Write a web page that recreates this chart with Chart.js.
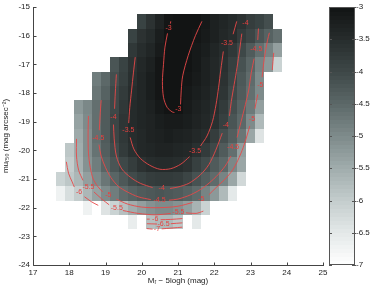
<!DOCTYPE html>
<html>
<head>
<meta charset="utf-8">
<script src="https://cdn.jsdelivr.net/npm/chart.js@4.4.0/dist/chart.umd.min.js"></script>
<style>
  html, body { margin: 0; padding: 0; background: #fff; }
  canvas { display: block; }
</style>
</head>
<body>
<canvas id="densityChart" width="374" height="288"></canvas>
<script>
// 2D histogram of log density, bins 0.25 mag wide and 0.5 mag tall
const binWidth = 0.25;
const binHeight = 0.5;

// centre of each row of bins (mu_r50)
const rowCentres = [-15.5, -16, -16.5, -17, -17.5, -18, -18.5, -19, -19.5, -20, -20.5, -21, -21.5, -22, -22.5];
// centre of the first bin in each row (M_r - 5logh)
const rowFirstColumn = [20.0, 19.75, 19.75, 19.25, 18.75, 18.75, 18.25, 18.25, 18.25, 18.0, 18.0, 17.75, 17.75, 18.5, 19.75];
// log density per bin, null = empty bin
const rowValues = [
  [-3.9, -3.6, -3.3, -3.05, -2.9, -2.9, -3.0, -3.1, -3.25, -3.35, -3.45, -3.6, -3.8, -3.9, -4.1],
  [-3.9, -3.6, -3.45, -3.2, -3.0, -2.9, -2.95, -3.05, -3.15, -3.25, -3.4, -3.5, -3.75, -3.95, -4.2, -4.4, -4.6],
  [-3.7, -3.5, -3.35, -3.15, -2.95, -2.9, -2.95, -3.1, -3.2, -3.35, -3.5, -3.7, -4.0, -4.3, -4.6, -4.9, -5.3],
  [-4.2, -3.9, -3.6, -3.4, -3.25, -3.05, -2.9, -2.9, -3.0, -3.1, -3.25, -3.4, -3.55, -3.85, -4.15, -4.45, -4.9, -5.2, -6.1],
  [-4.8, -4.5, -4.1, -3.85, -3.55, -3.35, -3.2, -3.05, -2.9, -2.95, -3.05, -3.15, -3.25, -3.4, -3.6, -3.9, -4.25, -4.55, -5.0],
  [-4.7, -4.4, -4.0, -3.75, -3.5, -3.35, -3.2, -3.05, -2.95, -2.95, -3.1, -3.2, -3.3, -3.45, -3.65, -4.0, -4.3, -4.6, -5.0],
  [-5.2, -4.95, -4.6, -4.3, -4.0, -3.7, -3.45, -3.35, -3.25, -3.1, -3.0, -3.0, -3.15, -3.25, -3.35, -3.5, -3.75, -4.1, -4.4, -4.75, -5.3],
  [-5.35, -5.0, -4.6, -4.3, -3.95, -3.65, -3.45, -3.35, -3.3, -3.2, -3.15, -3.15, -3.2, -3.3, -3.4, -3.55, -3.85, -4.2, -4.5, -5.0, -5.7],
  [-5.45, -5.05, -4.6, -4.3, -3.95, -3.7, -3.5, -3.4, -3.3, -3.25, -3.2, -3.25, -3.3, -3.4, -3.5, -3.8, -4.1, -4.35, -4.7, -5.4, -6.4],
  [-5.9, -5.5, -5.05, -4.65, -4.35, -4.05, -3.75, -3.55, -3.4, -3.35, -3.3, -3.3, -3.35, -3.4, -3.55, -3.75, -4.0, -4.3, -4.6, -5.3],
  [-6.0, -5.55, -5.1, -4.8, -4.45, -4.2, -4.0, -3.8, -3.6, -3.5, -3.45, -3.45, -3.5, -3.6, -3.85, -4.05, -4.3, -4.5, -4.95, -5.4],
  [-6.1, -5.9, -5.65, -5.3, -5.0, -4.7, -4.45, -4.25, -4.05, -3.9, -3.8, -3.75, -3.75, -3.8, -3.95, -4.15, -4.35, -4.55, -4.9, -5.4, -6.2],
  [-6.7, -6.3, -6.0, -5.65, -5.35, -5.0, -4.8, -4.55, -4.4, -4.3, -4.25, -4.2, -4.25, -4.3, -4.4, -4.55, -4.9, -5.2, -5.7, -6.5],
  [-6.7, null, -6.4, -6.1, -5.8, -5.5, -5.3, -5.1, -5.0, -5.0, -5.1, -5.3, -5.6, -6.1],
  [-6.6, null, -5.8, -5.7, -5.7, -5.9, null, -6.5]
];

// contour paths as [x, y] points, null breaks the line (label gaps)
const contourLevels = [-3, -3.5, -4, -4.5, -5, -5.5, -6, -6.5, -7];
const contour30 = [[20.80, -15.5], [20.79, -15.58], null, [20.71, -15.92], [20.64, -16.4], [20.6, -17.0], [20.57, -17.6], [20.6, -18.15], [20.7, -18.5], [20.84, -18.66], [20.9, -18.68], null, [21.07, -18.4], [21.09, -17.9], [21.13, -17.4], [21.28, -16.7], [21.48, -16.0], [21.66, -15.5]];
const contour35 = [[22.62, -15.5], [22.52, -15.95], null, [22.25, -16.55], [22.18, -17.2], [22.12, -17.8], [22.05, -18.4], [21.95, -19.0], [21.8, -19.5], [21.62, -19.85], null, [21.32, -20.22], [21.08, -20.48], [20.8, -20.64], [20.5, -20.66], [20.22, -20.52], [19.96, -20.28], [19.78, -19.95], [19.68, -19.55], null, [19.64, -19.05], [19.67, -18.5], [19.72, -17.9], [19.77, -17.3], [19.82, -16.75]];
const contour40 = [[22.76, -15.93], [22.7, -16.5], [22.63, -17.1], [22.55, -17.7], [22.47, -18.3], [22.42, -18.8], null, [22.22, -19.4], [22.04, -20.0], [21.85, -20.5], [21.62, -20.85], [21.3, -21.15], [21.0, -21.28], [20.78, -21.33], null, [20.3, -21.3], [19.96, -21.15], [19.7, -20.95], [19.45, -20.65], [19.3, -20.2], [19.24, -19.6], [19.22, -19.1], null, [19.25, -18.55], [19.27, -18.0], [19.3, -17.35]];
const contour45 = [[23.22, -15.75], [23.2, -16.15], null, [23.1, -16.8], [23.02, -17.3], [22.95, -17.9], [22.86, -18.4], [22.74, -19.0], [22.63, -19.55], null, [22.46, -20.2], [22.3, -20.55], [22.05, -20.92], [21.7, -21.3], [21.35, -21.55], [21.0, -21.7], [20.75, -21.74], null, [20.25, -21.72], [19.9, -21.62], [19.6, -21.45], [19.35, -21.25], [19.15, -20.95], [19.0, -20.6], [18.88, -20.2], [18.82, -19.8], null, [18.83, -19.3], [18.85, -18.8], [18.88, -18.25]];
const contour50 = [[23.52, -15.9], [23.47, -16.16], [23.38, -16.8], [23.32, -17.45], null, [23.2, -18.05], [23.12, -18.55], null, [22.98, -19.15], [22.9, -19.5], [22.8, -19.9], [22.65, -20.35], [22.5, -20.7], [22.3, -21.0], [22.05, -21.3], [21.85, -21.55], null, [21.4, -21.82], [21.0, -21.95], [20.5, -22.0], [20.0, -21.98], [19.6, -21.87], [19.3, -21.7], null, [18.92, -21.45], [18.78, -21.25], [18.66, -21.0], [18.58, -20.6], [18.53, -20.1], [18.52, -19.4], [18.53, -18.8]];
const contour55 = [[18.2, -19.6], [18.2, -20.2], [18.26, -20.7], [18.38, -21.05], null, [18.68, -21.45], [18.9, -21.7], [19.1, -21.9], null, [19.48, -22.1], [19.9, -22.2], [20.4, -22.25], [20.8, -22.2], null, [21.22, -22.18], [21.5, -22.2], [21.7, -22.12], null, [23.64, -16.6], [23.6, -17.2]];
const contour60 = [[17.92, -20.4], [17.98, -20.8], [18.08, -21.1], [18.14, -21.28], null, [18.42, -21.62], [18.62, -21.8], [18.8, -21.92], null, [20.14, -22.4], [20.22, -22.4], null, [20.52, -22.42], [20.8, -22.41], [21.12, -22.38]];
const contour65 = [[20.14, -22.56], [20.42, -22.57], null, [20.8, -22.56], [21.12, -22.53]];
const contour70 = [[20.14, -22.73], [20.3, -22.75], null, [20.55, -22.74], [21.12, -22.68]];
const contourPaths = [contour30, contour35, contour40, contour45, contour50, contour55, contour60, contour65, contour70];

// inline contour labels
const labelText = ['-3', '-3', '-3.5', '-3.5', '-3.5', '-4', '-4', '-4', '-4', '-4.5', '-4.5', '-4.5', '-4.5', '-5', '-5', '-5', '-5', '-5.5', '-5.5', '-5.5', '-6', '-6', '-6.5', '-7'];
const labelX = [20.74, 21.01, 22.35, 21.47, 19.63, 22.86, 22.32, 20.55, 19.22, 23.16, 22.52, 20.49, 18.8, 23.27, 23.04, 21.64, 19.08, 18.53, 19.31, 21.01, 18.27, 20.37, 20.6, 20.42];
const labelY = [-15.73, -18.57, -16.25, -20.02, -19.3, -15.56, -19.12, -21.33, -18.83, -16.45, -19.9, -21.74, -19.56, -17.73, -18.9, -21.71, -21.56, -21.27, -22.02, -22.14, -21.47, -22.41, -22.58, -22.76];

// axis ranges
const xRange = [17, 25];
const yRange = [-24, -15];
const colourRange = [-7, -3];

// grey colour map (light = low density)
const mapStops = [-7, -6.5, -6, -5.5, -5, -4.5, -4, -3.5, -3];
const mapColours = ['#ffffff', '#e4e9e9', '#c4cdcd', '#a1adad', '#7e8b8b', '#5c6868', '#3e4848', '#272d2d', '#121414'];

const lineRed = 'rgba(232, 72, 72, 0.9)';
const labelRed = '#e8403f';
const axisGrey = '#444';

function hexToRgb(h) {
    return [parseInt(h.slice(1, 3), 16), parseInt(h.slice(3, 5), 16), parseInt(h.slice(5, 7), 16)];
}

function colourFor(v) {
    const c = Math.max(colourRange[0], Math.min(colourRange[1], v));
    let i = 0;
    while (i < mapStops.length - 2 && c > mapStops[i + 1]) i++;
    const t = (c - mapStops[i]) / (mapStops[i + 1] - mapStops[i]);
    const a = hexToRgb(mapColours[i]);
    const b = hexToRgb(mapColours[i + 1]);
    const mix = a.map((ch, k) => Math.round(ch + (b[k] - ch) * t));
    return `rgb(${mix[0]},${mix[1]},${mix[2]})`;
}

// draw the histogram cells through the chart scales
const heatmapPlugin = {
    id: 'heatmap',
    beforeDatasetsDraw(chart) {
        const { ctx, chartArea, scales: { x, y } } = chart;
        ctx.save();
        ctx.beginPath();
        ctx.rect(chartArea.left, chartArea.top, chartArea.width, chartArea.height);
        ctx.clip();
        rowCentres.forEach((rc, r) => {
            const top = Math.round(y.getPixelForValue(rc + binHeight / 2));
            const bottom = Math.round(y.getPixelForValue(rc - binHeight / 2));
            rowValues[r].forEach((v, c) => {
                if (v === null) return;
                const xc = rowFirstColumn[r] + c * binWidth;
                const left = Math.round(x.getPixelForValue(xc - binWidth / 2));
                const right = Math.round(x.getPixelForValue(xc + binWidth / 2));
                ctx.fillStyle = colourFor(v);
                ctx.fillRect(left, top, right - left, bottom - top);
            });
        });
        ctx.restore();
    },
    afterDatasetsDraw(chart) {
        // contour labels
        const { ctx, scales: { x, y } } = chart;
        ctx.save();
        ctx.font = '7px "Liberation Sans", Arial, sans-serif';
        ctx.fillStyle = labelRed;
        ctx.textAlign = 'center';
        ctx.textBaseline = 'middle';
        labelText.forEach((t, i) => {
            ctx.fillText(t, x.getPixelForValue(labelX[i]), y.getPixelForValue(labelY[i]));
        });
        ctx.restore();
    }
};

// MATLAB style axes: left + bottom lines with inward ticks, plus the colour bar
const axesPlugin = {
    id: 'matlabAxes',
    afterDraw(chart) {
        const { ctx, chartArea: a, scales: { x, y, cb } } = chart;
        ctx.save();
        ctx.strokeStyle = axisGrey;
        ctx.lineWidth = 1;
        ctx.beginPath();
        const lx = Math.round(a.left) + 0.5;
        const by = Math.round(a.bottom) + 0.5;
        ctx.moveTo(lx, Math.round(a.top));
        ctx.lineTo(lx, by);
        ctx.lineTo(Math.round(a.right) + 1, by);
        x.ticks.forEach(t => {
            const px = Math.round(x.getPixelForValue(t.value)) + 0.5;
            ctx.moveTo(px, by);
            ctx.lineTo(px, by - 3);
        });
        y.ticks.forEach(t => {
            const py = Math.round(y.getPixelForValue(t.value)) + 0.5;
            ctx.moveTo(lx, py);
            ctx.lineTo(lx + 3, py);
        });
        ctx.stroke();

        // colour bar
        const barLeft = Math.round(cb.left) + 6;
        const barRight = barLeft + 26;
        const barTop = Math.round(cb.getPixelForValue(colourRange[1]));
        const barBottom = Math.round(cb.getPixelForValue(colourRange[0]));
        const levels = 64;
        const step = (colourRange[1] - colourRange[0]) / levels;
        for (let i = 0; i < levels; i++) {
            const v0 = colourRange[0] + i * step;
            const p0 = cb.getPixelForValue(v0);
            const p1 = cb.getPixelForValue(v0 + step);
            ctx.fillStyle = colourFor(v0 + step / 2);
            ctx.fillRect(barLeft, Math.floor(p1), barRight - barLeft, Math.ceil(p0) - Math.floor(p1));
        }
        ctx.strokeStyle = '#555';
        ctx.strokeRect(barLeft + 0.5, barTop + 0.5, barRight - barLeft - 1, barBottom - barTop - 1);
        ctx.beginPath();
        cb.ticks.forEach(t => {
            const py = Math.round(cb.getPixelForValue(t.value)) + 0.5;
            ctx.moveTo(barLeft, py);
            ctx.lineTo(barLeft + 3, py);
            ctx.moveTo(barRight - 3, py);
            ctx.lineTo(barRight + 1, py);
        });
        ctx.stroke();
        ctx.restore();
    }
};

Chart.defaults.font.family = '"Liberation Sans", Arial, sans-serif';
Chart.defaults.font.size = 8;
Chart.defaults.color = '#222';

const datasets = contourPaths.map((path, i) => ({
    label: String(contourLevels[i]),
    data: path.map(p => p ? { x: p[0], y: p[1] } : { x: null, y: null }),
    showLine: true,
    spanGaps: false,
    borderColor: lineRed,
    borderWidth: 1,
    pointRadius: 0,
    tension: 0.3,
    clip: false
}));

new Chart(document.getElementById('densityChart'), {
    type: 'scatter',
    data: { datasets },
    options: {
        responsive: false,
        animation: false,
        devicePixelRatio: 1,
        layout: { padding: { top: 7, left: 0, right: 0, bottom: 0 } },
        plugins: { legend: { display: false }, tooltip: { enabled: false } },
        scales: {
            x: {
                type: 'linear',
                min: xRange[0],
                max: xRange[1],
                grid: { display: false, drawTicks: false },
                border: { display: false },
                ticks: { stepSize: 1, padding: 3, maxRotation: 0 },
                title: { display: true, text: 'Mᵣ − 5logh (mag)', padding: { top: 0, bottom: 2 } },
                afterFit: s => { s.height = 23; }
            },
            y: {
                type: 'linear',
                position: 'left',
                min: yRange[0],
                max: yRange[1],
                grid: { display: false, drawTicks: false },
                border: { display: false },
                ticks: { stepSize: 1, padding: 3 },
                title: { display: true, text: 'muᵣ₅₀ (mag arcsec⁻²)', padding: { top: 1, bottom: 0 } },
                afterFit: s => { s.width = 33; s.paddingTop = 4; s.paddingBottom = 4; }
            },
            cb: {
                type: 'linear',
                position: 'right',
                min: colourRange[0],
                max: colourRange[1],
                grid: { display: false, drawTicks: false },
                border: { display: false },
                ticks: { stepSize: 0.5, padding: 33, callback: v => String(v) },
                afterFit: s => { s.width = 51; s.paddingTop = 4; s.paddingBottom = 4; }
            }
        }
    },
    plugins: [heatmapPlugin, axesPlugin]
});
</script>
</body>
</html>
